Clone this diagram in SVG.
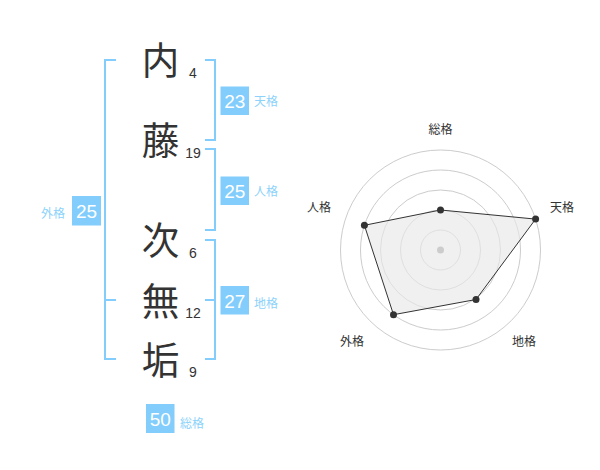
<svg xmlns="http://www.w3.org/2000/svg" width="600" height="470" viewBox="0 0 600 470">
<style>
.k{font-family:"Noto Sans CJK JP","Noto Sans CJK SC",sans-serif;font-size:37.5px;fill:#333;text-anchor:middle}
.n{font-family:"Liberation Sans",Arial,sans-serif;font-size:14px;fill:#333;text-anchor:middle}
.bx{fill:#82cdfc}
.bt{font-family:"Liberation Sans",Arial,sans-serif;font-size:19px;fill:#fff;text-anchor:middle}
.lb{font-family:"Noto Sans CJK JP","Noto Sans CJK SC",sans-serif;font-size:12px;fill:#8cd2fb}
.br{fill:none;stroke:#82cdfc;stroke-width:2}
.ring{fill:none;stroke:#cccccc;stroke-width:1}
.rl{font-family:"Noto Sans CJK JP","Noto Sans CJK SC",sans-serif;font-size:12px;fill:#333;text-anchor:middle}
.pt{fill:#333}
</style>
<g id="brackets">
<path class="br" d="M116,60 H105 V359 H116 M105,300 H116"/>
<path class="br" d="M205,60 H215 V140 H205"/>
<path class="br" d="M205,149 H215 V230 H205"/>
<path class="br" d="M205,240 H215 V359 H205 M215,300 H205"/>
</g>
<g id="chars">
<text class="k" x="160.5" y="74">内</text>
<text class="k" x="160.5" y="154">藤</text>
<text class="k" x="160.5" y="254">次</text>
<text class="k" x="160.5" y="315">無</text>
<text class="k" x="160.5" y="374">垢</text>
<text class="n" x="193" y="78">4</text>
<text class="n" x="193" y="158">19</text>
<text class="n" x="193" y="258">6</text>
<text class="n" x="193" y="318">12</text>
<text class="n" x="193" y="377">9</text>
</g>
<g id="tenkaku">
<rect class="bx" x="220.5" y="86.5" width="28.5" height="28.5"/>
<text class="bt" x="234.7" y="108">23</text>
<text class="lb" x="254" y="106">天格</text>
</g>
<g id="jinkaku">
<rect class="bx" x="220.5" y="176.5" width="28.5" height="28.5"/>
<text class="bt" x="234.7" y="198">25</text>
<text class="lb" x="254" y="196">人格</text>
</g>
<g id="chikaku">
<rect class="bx" x="220.5" y="286" width="28.5" height="28.5"/>
<text class="bt" x="234.7" y="307.5">27</text>
<text class="lb" x="254" y="308">地格</text>
</g>
<g id="gaikaku">
<rect class="bx" x="72" y="196" width="29" height="29.5"/>
<text class="bt" x="86.5" y="217.5">25</text>
<text class="lb" x="41" y="218">外格</text>
</g>
<g id="soukaku">
<rect class="bx" x="146" y="404" width="28.5" height="29"/>
<text class="bt" x="160.2" y="425.5">50</text>
<text class="lb" x="180" y="428">総格</text>
</g>
<g id="radar">
<circle class="ring" cx="440.5" cy="250" r="20"/>
<circle class="ring" cx="440.5" cy="250" r="40"/>
<circle class="ring" cx="440.5" cy="250" r="60"/>
<circle class="ring" cx="440.5" cy="250" r="80"/>
<circle class="ring" cx="440.5" cy="250" r="100"/>
<polygon points="440.5,210 535.6,219.1 476,299.5 393.5,314.7 364.4,225.3" fill="#e8e8e8" fill-opacity="0.65" stroke="#333" stroke-width="1"/>
<circle cx="440.5" cy="250" r="3.5" fill="#cccccc"/>
<circle class="pt" cx="440.5" cy="210" r="3.5"/>
<circle class="pt" cx="535.6" cy="219.1" r="3.5"/>
<circle class="pt" cx="476" cy="299.5" r="3.5"/>
<circle class="pt" cx="393.5" cy="314.7" r="3.5"/>
<circle class="pt" cx="364.4" cy="225.3" r="3.5"/>
<text class="rl" x="440.5" y="134">総格</text>
<text class="rl" x="562" y="212">天格</text>
<text class="rl" x="319" y="212">人格</text>
<text class="rl" x="352" y="346">外格</text>
<text class="rl" x="524" y="346">地格</text>
</g>
</svg>
